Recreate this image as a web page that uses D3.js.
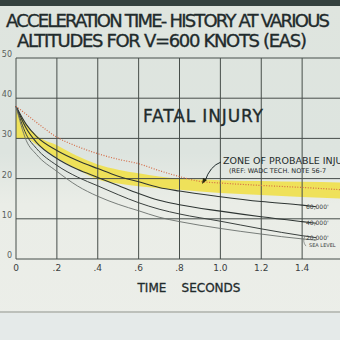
<!DOCTYPE html>
<html>
<head>
<meta charset="utf-8">
<script src="https://cdn.jsdelivr.net/npm/d3@7"></script>
<style>
  html, body { margin: 0; padding: 0; background: #e4e8e2; overflow: hidden; }
  svg { display: block; }
</style>
</head>
<body>
<div id="chart-container"></div>
<script>
// Data
const times = [0, 0.05, 0.1, 0.2, 0.3, 0.4, 0.5, 0.6, 0.7, 0.8, 1.0, 1.2, 1.4, 1.47];
const alt60k = [38, 33.5, 30.5, 27, 24.5, 22.5, 20.6, 19.2, 17.8, 16.9, 15.5, 14.3, 13.4, 13.0];
const alt40k = [38, 32.5, 29, 25, 22.3, 20.3, 18.3, 16.3, 14.6, 13.5, 11.9, 10.5, 9.3, 8.9];
const alt20k = [38, 31, 27.5, 23.3, 20.4, 18.2, 16.0, 14.0, 12.4, 11.2, 9.4, 7.5, 5.8, 5.3];
const seaLevel = [38, 29.5, 26, 21.8, 18.2, 15.6, 13.6, 12.0, 10.4, 9.3, 7.6, 6.2, 5.0, 4.7];

const zoneTimes = [0, 0.02, 0.05, 0.1, 0.2, 0.3, 0.4, 0.5, 0.6, 0.7, 0.8, 1.0, 1.2, 1.4, 1.6];
const zoneUpper = [37.5, 36, 33.5, 30.8, 28.3, 25.6, 23.5, 22.2, 21.3, 20.5, 20.0, 19.6, 19.4, 19.2, 19.0];
const zoneLower = [30, 30, 30, 28.5, 25.2, 22.3, 19.8, 18.8, 18.1, 17.6, 17.2, 16.4, 15.9, 15.4, 15.0];

const fatalTimes = [0, 0.05, 0.1, 0.2, 0.3, 0.4, 0.5, 0.6, 0.7, 0.8, 0.9, 1.0, 1.2, 1.4, 1.6];
const fatalLine = [38, 36, 34, 30.3, 28, 26.2, 24.8, 23.7, 22.0, 20.5, 19.3, 18.9, 18.3, 17.8, 17.2];

const xTicks = [0, 0.2, 0.4, 0.6, 0.8, 1.0, 1.2, 1.4, 1.6];
const xTickLabels = ["0", ".2", ".4", ".6", ".8", "1.0", "1.2", "1.4", ""];
const yTicks = [0, 10, 20, 30, 40, 50];

const altLabels = ["60,000'", "40,000'", "20,000'"];

const W = 340, H = 340;
const x = d3.scaleLinear().domain([0, 1.6]).range([16, 343]);
const y = d3.scaleLinear().domain([0, 50]).range([259, 58]);

const svg = d3.select("#chart-container")
  .append("svg")
  .attr("width", W)
  .attr("height", H);

// slide background
const defs = svg.append("defs");
const grad = defs.append("linearGradient").attr("id", "bg").attr("x1", 0).attr("y1", 0).attr("x2", 0).attr("y2", 1);
grad.append("stop").attr("offset", "0%").attr("stop-color", "#dfe5df");
grad.append("stop").attr("offset", "45%").attr("stop-color", "#dde4df");
grad.append("stop").attr("offset", "60%").attr("stop-color", "#eaede7");
grad.append("stop").attr("offset", "100%").attr("stop-color", "#eceee9");
svg.append("rect").attr("width", W).attr("height", H).attr("fill", "url(#bg)");
svg.append("rect").attr("width", W).attr("height", 6).attr("fill", "#34413f");
svg.append("line")
  .attr("x1", 0).attr("x2", W).attr("y1", 312).attr("y2", 312)
  .attr("stroke", "#8d928c").attr("stroke-width", 1);
svg.append("rect").attr("y", 313).attr("width", W).attr("height", 27).attr("fill", "#e5eae9");

// titles
const titleStyle = sel => sel
  .attr("text-anchor", "middle")
  .style("font-family", "'DejaVu Sans', sans-serif")
  .style("font-size", "18px")
  .attr("fill", "#1f2b2c")
  .attr("stroke", "#1f2b2c")
  .attr("stroke-width", 0.35);
svg.append("text")
  .attr("x", 168).attr("y", 27)
  .attr("textLength", 324)
  .call(titleStyle)
  .text("ACCELERATION TIME- HISTORY AT VARIOUS");
svg.append("text")
  .attr("x", 162).attr("y", 47)
  .attr("textLength", 290)
  .call(titleStyle)
  .text("ALTITUDES FOR V=600 KNOTS (EAS)");

// zone of probable injury
const area = d3.area()
  .x((d, i) => x(zoneTimes[i]))
  .y0((d, i) => y(zoneLower[i]))
  .y1(d => y(d))
  .curve(d3.curveMonotoneX);
svg.append("path")
  .datum(zoneUpper)
  .attr("fill", "#f0e04a")
  .attr("opacity", 0.9)
  .attr("d", area);

// gridlines
svg.selectAll(".xGrid")
  .data(xTicks)
  .join("line")
  .attr("x1", d => x(d)).attr("x2", d => x(d))
  .attr("y1", y(50)).attr("y2", y(0))
  .attr("stroke", "#474e4a").attr("stroke-width", 1);
svg.selectAll(".yGrid")
  .data(yTicks)
  .join("line")
  .attr("x1", x(0)).attr("x2", W)
  .attr("y1", d => y(d)).attr("y2", d => y(d))
  .attr("stroke", "#474e4a").attr("stroke-width", 1);

// tick labels
svg.selectAll(".yLab")
  .data(yTicks)
  .join("text")
  .attr("x", 12).attr("y", d => y(d) - 1)
  .attr("text-anchor", "end")
  .style("font-family", "'DejaVu Sans', sans-serif")
  .style("font-size", "8px")
  .attr("fill", "#5a5f5c")
  .text(d => d);
svg.selectAll(".xLab")
  .data(xTicks)
  .join("text")
  .attr("x", d => x(d)).attr("y", 271)
  .attr("text-anchor", "middle")
  .style("font-family", "'DejaVu Sans', sans-serif")
  .style("font-size", "9px")
  .attr("fill", "#3a403e")
  .text((d, i) => xTickLabels[i]);

svg.append("text")
  .attr("x", 189).attr("y", 292)
  .attr("text-anchor", "middle")
  .style("font-family", "'DejaVu Sans', sans-serif")
  .style("font-size", "12px")
  .attr("fill", "#1f2b2c")
  .attr("stroke", "#1f2b2c")
  .attr("stroke-width", 0.3)
  .attr("xml:space", "preserve")
  .text("TIME    SECONDS");

// acceleration curves
const curveLine = d3.line()
  .x((d, i) => x(times[i]))
  .y(d => y(d))
  .curve(d3.curveMonotoneX);
const series = [
  { v: alt60k, c: "#2e3533", w: 1.1 },
  { v: alt40k, c: "#2e3533", w: 1.1 },
  { v: alt20k, c: "#3a403e", w: 1 },
  { v: seaLevel, c: "#6a6f6c", w: 0.9 }
];
series.forEach(s => {
  svg.append("path")
    .datum(s.v)
    .attr("fill", "none")
    .attr("stroke", s.c)
    .attr("stroke-width", s.w)
    .attr("d", curveLine);
});

// fatal injury boundary (dotted)
const fatal = d3.line()
  .x((d, i) => x(fatalTimes[i]))
  .y(d => y(d))
  .curve(d3.curveMonotoneX);
svg.append("path")
  .datum(fatalLine)
  .attr("fill", "none")
  .attr("stroke", "#d46a45")
  .attr("stroke-width", 1.2)
  .attr("stroke-dasharray", "1,1.6")
  .attr("d", fatal);

// annotations
svg.append("text")
  .attr("x", 143).attr("y", 122)
  .style("font-family", "'DejaVu Sans', sans-serif")
  .style("font-size", "17px")
  .attr("textLength", 120)
  .attr("fill", "#1f2b2c")
  .attr("stroke", "#1f2b2c")
  .attr("stroke-width", 0.35)
  .text("FATAL INJURY");

svg.append("text")
  .attr("x", 223).attr("y", 164)
  .style("font-family", "'DejaVu Sans', sans-serif")
  .style("font-size", "9.5px")
  .attr("fill", "#1f2b2c")
  .text("ZONE OF PROBABLE INJURY");
svg.append("text")
  .attr("x", 229).attr("y", 172.5)
  .style("font-family", "'DejaVu Sans', sans-serif")
  .style("font-size", "6.5px")
  .attr("fill", "#1f2b2c")
  .text("(REF: WADC TECH. NOTE 56-7");

// arrow to the zone
svg.append("path")
  .attr("d", "M221,162 Q210,166 205,181")
  .attr("fill", "none")
  .attr("stroke", "#1f2b2c")
  .attr("stroke-width", 1);
svg.append("path")
  .attr("d", "M202,184 L203,178 L207,180 Z")
  .attr("fill", "#2b2a10");

// altitude labels at the ends of the curves
const labelVals = [alt60k, alt40k, alt20k].map(a => a[a.length - 1]);
svg.selectAll(".altLab")
  .data(altLabels)
  .join("text")
  .attr("x", 306)
  .attr("y", (d, i) => y(labelVals[i]) + 2)
  .style("font-family", "'DejaVu Sans', sans-serif")
  .style("font-size", "6px")
  .attr("fill", "#3a403e")
  .text(d => d);
svg.append("text")
  .attr("x", 309).attr("y", y(seaLevel[seaLevel.length - 1]) + 7)
  .style("font-family", "'DejaVu Sans', sans-serif")
  .style("font-size", "5px")
  .attr("fill", "#3a403e")
  .text("SEA LEVEL");
svg.append("path")
  .attr("d", `M305,${y(alt20k[alt20k.length - 1]) - 2} Q302,${y(alt20k[alt20k.length - 1]) + 4} 306,${y(seaLevel[seaLevel.length - 1]) + 6}`)
  .attr("fill", "none")
  .attr("stroke", "#5a5f5c")
  .attr("stroke-width", 0.6);
</script>
</body>
</html>
